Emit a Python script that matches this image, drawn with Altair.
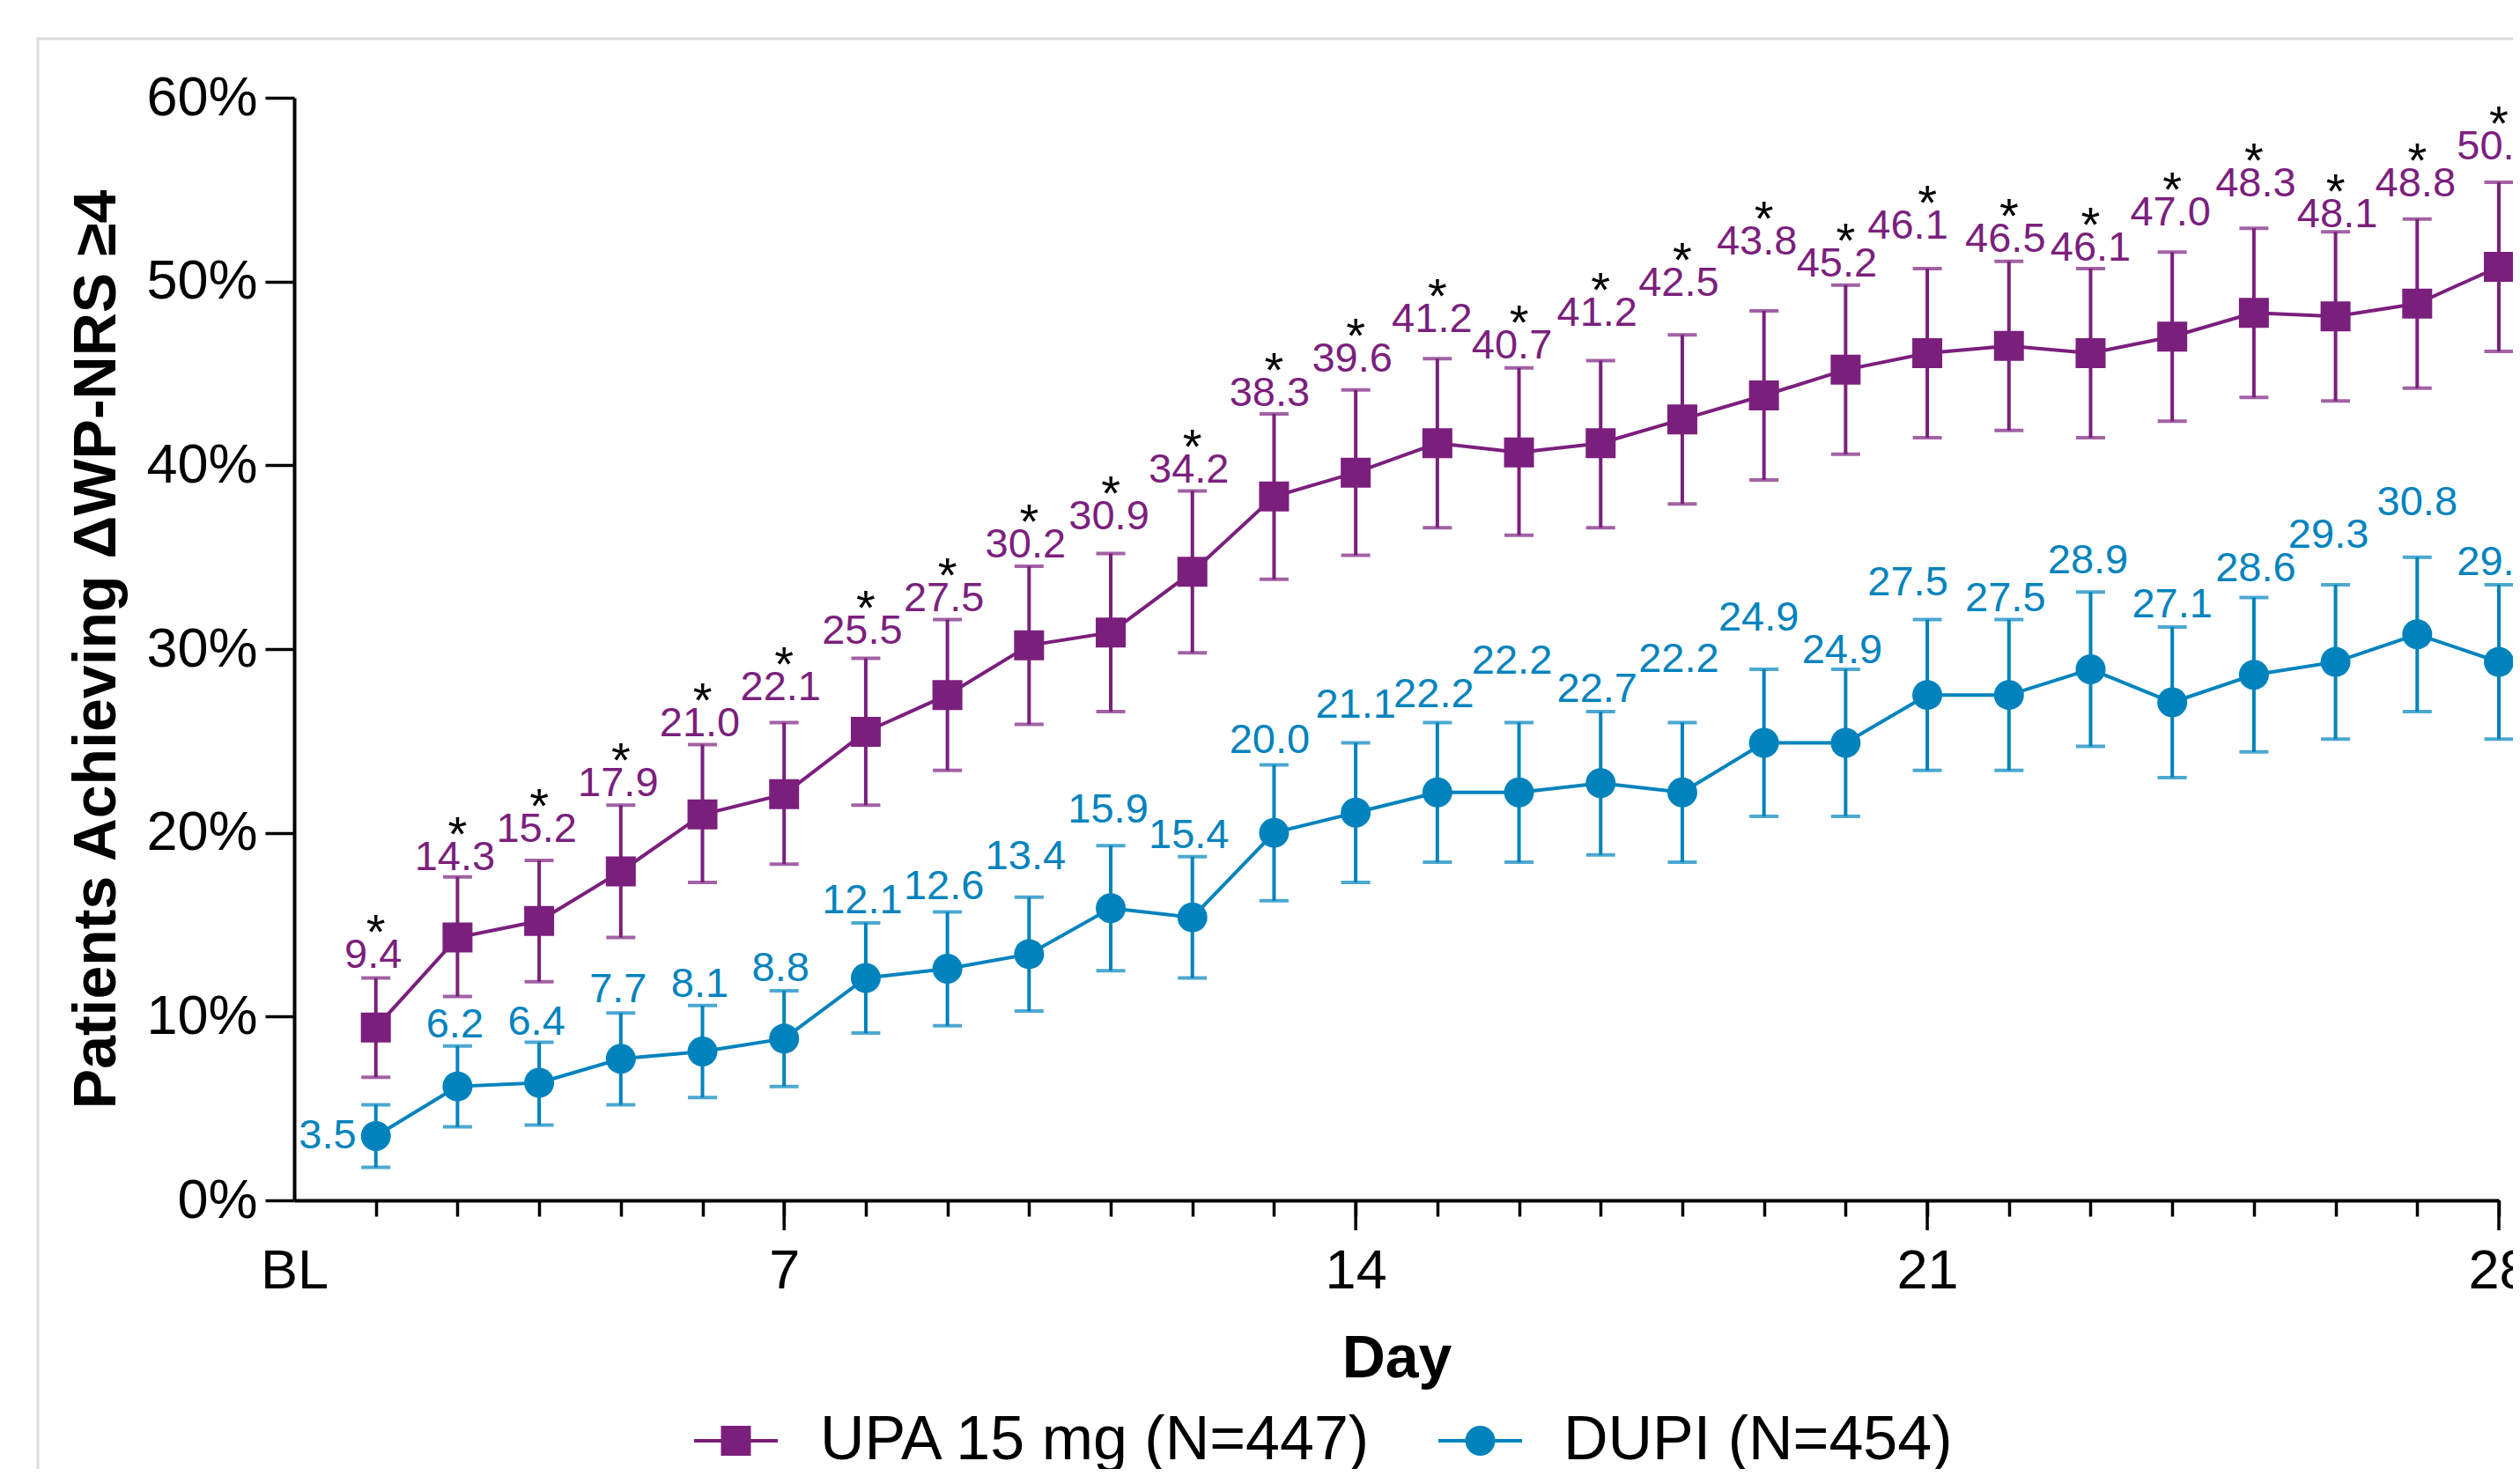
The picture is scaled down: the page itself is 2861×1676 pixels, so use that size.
import altair as alt
import pandas as pd

# ---------------- data ----------------
days = list(range(2, 29))

upa_values = [9.4, 14.3, 15.2, 17.9, 21.0, 22.1, 25.5, 27.5, 30.2, 30.9, 34.2, 38.3, 39.6, 41.2,
              40.7, 41.2, 42.5, 43.8, 45.2, 46.1, 46.5, 46.1, 47.0, 48.3, 48.1, 48.8, 50.8]
upa_lower = [6.7, 11.1, 11.9, 14.3, 17.3, 18.3, 21.5, 23.4, 25.9, 26.6, 29.8, 33.8, 35.1, 36.6,
             36.2, 36.6, 37.9, 39.2, 40.6, 41.5, 41.9, 41.5, 42.4, 43.7, 43.5, 44.2, 46.2]
upa_upper = [12.1, 17.6, 18.5, 21.5, 24.8, 26.0, 29.5, 31.6, 34.5, 35.2, 38.6, 42.8, 44.1, 45.8,
             45.3, 45.7, 47.1, 48.4, 49.8, 50.7, 51.1, 50.7, 51.6, 52.9, 52.7, 53.4, 55.4]
upa_significant = [1, 1, 1, 1, 1, 1, 1, 1, 1, 1, 1, 1, 1, 1, 1, 1, 1, 1, 1, 1, 1, 1, 1, 1, 1, 1, 1]

dupi_values = [3.5, 6.2, 6.4, 7.7, 8.1, 8.8, 12.1, 12.6, 13.4, 15.9, 15.4, 20.0, 21.1, 22.2,
               22.2, 22.7, 22.2, 24.9, 24.9, 27.5, 27.5, 28.9, 27.1, 28.6, 29.3, 30.8, 29.3]
dupi_lower = [1.8, 4.0, 4.1, 5.2, 5.6, 6.2, 9.1, 9.5, 10.3, 12.5, 12.1, 16.3, 17.3, 18.4,
              18.4, 18.8, 18.4, 20.9, 20.9, 23.4, 23.4, 24.7, 23.0, 24.4, 25.1, 26.6, 25.1]
dupi_upper = [5.2, 8.4, 8.6, 10.2, 10.6, 11.4, 15.1, 15.7, 16.5, 19.3, 18.7, 23.7, 24.9, 26.0,
              26.0, 26.6, 26.0, 28.9, 28.9, 31.6, 31.6, 33.1, 31.2, 32.8, 33.5, 35.0, 33.5]
dupi_significant = [0] * 27

series_names = ["UPA 15 mg (N=447)", "DUPI (N=454)"]
series_colors = ["#7B1F7D", "#0083BD"]
series_shapes = ["square", "circle"]
x_tick_values = list(range(1, 29))
x_major_ticks = [7, 14, 21, 28]
y_tick_values = [0, 10, 20, 30, 40, 50, 60]

# ---------------- layout (pixels) ----------------
W, H = 2503, 1252
PX_PER_PCT = H / 60.0
PX_PER_DAY = W / 27.0

upa_label_gap = [12, 8, 21, 10, 10, 25, 16, 10, 10, 27, 10, 9, 21, 30, 11, 39, 44, 64, 10, 34,
                 11, 9, 30, 36, 5, 26, 26]
dupi_label_gap = [0, 10, 9, 12, 10, 11, 11, 14, 32, 26, 10, 13, 28, 17, 55, 11, 57, 44, 7, 28,
                  10, 21, 11, 19, 42, 48, 11]
upa_label_dx = [-3, -3, -3, -3, -3, -4, -4, -4, -4, -2, -4, -5, -4, -6, -8, -4, -4, -8, -10, -22,
                -4, 0, -2, 2, 2, -2, -2]
dupi_label_dx = [0, -3, -3, -3, -3, -4, -4, -4, -4, -3, -4, -5, 0, -4, -8, -4, -4, -6, -4, -22,
                 -4, -3, 0, 2, -8, 0, -2]
STAR_OFFSET_PX = 22

# legend entries: symbol left edge and label start, relative to plot origin
legend_symbol_left = [454, 1299]
legend_label_left = [597, 1441]
LEGEND_Y = 1525
LEGEND_SYMBOL_W = 95

rows = []
for s_i, (vals, lo, hi, sig, gaps, dxs) in enumerate([
        (upa_values, upa_lower, upa_upper, upa_significant, upa_label_gap, upa_label_dx),
        (dupi_values, dupi_lower, dupi_upper, dupi_significant, dupi_label_gap, dupi_label_dx)]):
    for i, d in enumerate(days):
        label_y = hi[i] + gaps[i] / PX_PER_PCT
        pos = "left" if (s_i == 1 and i == 0) else "above"
        rows.append({
            "day": d,
            "value": vals[i],
            "lower": lo[i],
            "upper": hi[i],
            "series": series_names[s_i],
            "label": f"{vals[i]:.1f}",
            "label_x": d + dxs[i] / PX_PER_DAY,
            "label_y": label_y,
            "label_pos": pos,
            "star": sig[i],
            "star_y": label_y + STAR_OFFSET_PX / PX_PER_PCT,
        })
df = pd.DataFrame(rows)

FONT = "Liberation Sans"

x_scale = alt.Scale(domain=[1, 28], nice=False, zero=False)
y_scale = alt.Scale(domain=[0, 60], nice=False, zero=False)

x_axis = alt.Axis(
    values=x_tick_values,
    labelExpr="datum.value == 1 ? 'BL' : (datum.value % 7 == 0 ? '' + datum.value : '')",
    tickSize=18,
    tickOpacity={"condition": {"test": "datum.value === 1", "value": 0}, "value": 1},
    grid=False, domainColor="black", domainWidth=4, tickColor="black", tickWidth=3.5,
    labelFont=FONT, labelFontSize=63, labelColor="black", labelPadding=31,
    labelFlush=False, labelOverlap=False,
    titleFont=FONT, titleFontSize=68, titleFontWeight="bold", titleColor="black", titlePadding=34,
)
y_axis = alt.Axis(
    values=y_tick_values, labelExpr="datum.value + '%'",
    tickSize=33, grid=False, domainColor="black", domainWidth=4, tickColor="black", tickWidth=3.5,
    labelFont=FONT, labelFontSize=63, labelColor="black", labelPadding=9,
    labelFlush=False, labelOverlap=False,
    titleFont=FONT, titleFontSize=68, titleFontWeight="bold", titleColor="black", titlePadding=21,
)

X_TITLE = "Day"
Y_TITLE = "Patients Achieving \u0394WP-NRS \u22654"


def X(field):
    return alt.X(f"{field}:Q", scale=x_scale, axis=x_axis, title=X_TITLE)


def Y(field):
    return alt.Y(f"{field}:Q", scale=y_scale, axis=y_axis, title=Y_TITLE)


color_scale = alt.Scale(domain=series_names, range=series_colors)
col = alt.Color("series:N", scale=color_scale, legend=None)

base = alt.Chart(df)

border = alt.Chart(pd.DataFrame({"k": [0]})).mark_rect(
    fill="transparent", stroke="#dcdcdc", strokeWidth=3
).encode(x=alt.value(-291), x2=alt.value(W + 600), y=alt.value(-67), y2=alt.value(H + 800))

major = alt.Chart(pd.DataFrame({"day": x_major_ticks})).mark_rule(
    color="black", strokeWidth=3.5).encode(x=X("day"), y=alt.value(H), y2=alt.value(H + 34))

err = base.mark_rule(strokeWidth=4).encode(x=X("day"), y=Y("lower"), y2="upper", color=col)
cap_hi = base.mark_tick(orient="horizontal", size=33, thickness=4).encode(
    x=X("day"), y=Y("upper"), color=col)
cap_lo = base.mark_tick(orient="horizontal", size=33, thickness=4).encode(
    x=X("day"), y=Y("lower"), color=col)
line = base.mark_line(strokeWidth=4).encode(x=X("day"), y=Y("value"), color=col)

pts_upa = base.transform_filter(alt.datum.series == series_names[0]).mark_point(
    shape=series_shapes[0], filled=True, size=1156, opacity=1).encode(
    x=X("day"), y=Y("value"), color=col)
pts_dupi = base.transform_filter(alt.datum.series == series_names[1]).mark_point(
    shape=series_shapes[1], filled=True, size=1156, opacity=1).encode(
    x=X("day"), y=Y("value"), color=col)

labels = base.transform_filter(alt.datum.label_pos == "above").mark_text(
    font=FONT, fontSize=47, align="center", baseline="alphabetic").encode(
    x=X("label_x"), y=Y("label_y"), text="label:N", color=col)
labels_left = base.transform_filter(alt.datum.label_pos == "left").mark_text(
    font=FONT, fontSize=47, align="right", baseline="middle", dx=-22).encode(
    x=X("day"), y=Y("value"), text="label:N", color=col)
stars = base.transform_filter(alt.datum.star == 1).mark_text(
    font=FONT, fontSize=56, align="center", baseline="alphabetic", color="black").encode(
    x=X("day"), y=Y("star_y"), text=alt.value("*"))

# legend: a line with the series marker, then the series name
one = pd.DataFrame({"k": [0]})
legend_layers = []
for i, name in enumerate(series_names):
    left = legend_symbol_left[i]
    legend_layers.append(alt.Chart(one).mark_rule(color=series_colors[i], strokeWidth=4).encode(
        x=alt.value(left), x2=alt.value(left + LEGEND_SYMBOL_W), y=alt.value(LEGEND_Y)))
    legend_layers.append(alt.Chart(one).mark_point(
        shape=series_shapes[i], filled=True, size=1156, opacity=1, color=series_colors[i]).encode(
        x=alt.value(left + LEGEND_SYMBOL_W / 2), y=alt.value(LEGEND_Y)))
    legend_layers.append(alt.Chart(one).mark_text(
        font=FONT, fontSize=70, align="left", baseline="middle", color="black").encode(
        x=alt.value(legend_label_left[i]), y=alt.value(LEGEND_Y), text=alt.value(name)))

chart = alt.layer(
    border, major, err, cap_hi, cap_lo, line, pts_upa, pts_dupi, labels, labels_left, stars,
    *legend_layers
).properties(
    width=W, height=H,
    autosize=alt.AutoSizeParams(type="none"),
    padding={"left": 326, "top": 103, "right": 16, "bottom": 305},
).configure(font=FONT).configure_view(stroke="transparent")

chart.save("out.html", embed_options={"renderer": "svg", "actions": False})
